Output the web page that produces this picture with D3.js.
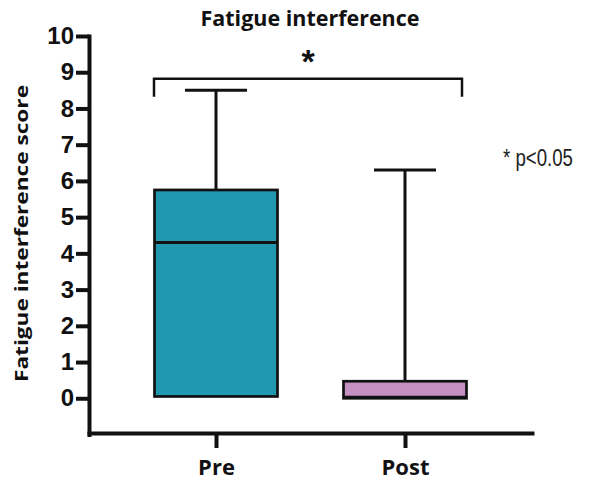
<!DOCTYPE html>
<meta charset="utf-8">
<script src="https://d3js.org/d3.v7.min.js"></script>
<style>
  body { margin: 0; background: #fff; }
  svg { display: block; }
</style>
<body>
<div id="my_dataviz"></div>
</body>
<script>

// data
var groups  = ["Pre", "Post"];
var mins    = [0.05, 0];
var q1s     = [0.05, 0];
var medians = [4.3, 0.03];
var q3s     = [5.75, 0.47];
var maxs    = [8.5, 6.3];
var colors  = ["#2198b0", "#c48fc2"];
var yTicks  = [0, 1, 2, 3, 4, 5, 6, 7, 8, 9, 10];

var W = 604, H = 483;

var svg = d3.select("#my_dataviz")
  .append("svg")
    .attr("width", W)
    .attr("height", H);

// scales
var y = d3.scaleLinear()
  .domain([-1, 10])
  .range([434.5, 36]);

var x = d3.scalePoint()
  .domain(groups)
  .range([89, 532])
  .padding(0.672);

var boxW = 123, capW = 62;

var data = groups.map(function(g, i) {
  return { g: g, min: mins[i], q1: q1s[i], med: medians[i], q3: q3s[i], max: maxs[i], c: colors[i] };
});

// whiskers (drawn first, box sits on top)
svg.selectAll(".whisk")
  .data(data)
  .enter().append("line")
    .attr("x1", function(d) { return x(d.g); })
    .attr("x2", function(d) { return x(d.g); })
    .attr("y1", function(d) { return y(d.max); })
    .attr("y2", function(d) { return y(d.q3); })
    .attr("stroke", "#111").attr("stroke-width", 3);

svg.selectAll(".cap")
  .data(data)
  .enter().append("line")
    .attr("x1", function(d) { return x(d.g) - capW / 2; })
    .attr("x2", function(d) { return x(d.g) + capW / 2; })
    .attr("y1", function(d) { return y(d.max); })
    .attr("y2", function(d) { return y(d.max); })
    .attr("stroke", "#111").attr("stroke-width", 3);

// boxes
svg.selectAll(".box")
  .data(data)
  .enter().append("rect")
    .attr("x", function(d) { return x(d.g) - boxW / 2; })
    .attr("y", function(d) { return y(d.q3); })
    .attr("width", boxW)
    .attr("height", function(d) { return y(d.q1) - y(d.q3); })
    .attr("fill", function(d) { return d.c; })
    .attr("stroke", "#111")
    .attr("stroke-width", 2.7);

// medians
svg.selectAll(".med")
  .data(data)
  .enter().append("line")
    .attr("x1", function(d) { return x(d.g) - boxW / 2; })
    .attr("x2", function(d) { return x(d.g) + boxW / 2; })
    .attr("y1", function(d) { return y(d.med); })
    .attr("y2", function(d) { return y(d.med); })
    .attr("stroke", "#111").attr("stroke-width", 3);

// Y axis
var yAxis = svg.append("g")
  .attr("transform", "translate(89,0)")
  .call(d3.axisLeft(y).tickValues(yTicks).tickSize(13).tickSizeOuter(0).tickPadding(2));

// X axis
var xAxis = svg.append("g")
  .attr("transform", "translate(0,433)")
  .call(d3.axisBottom(x).tickSize(15).tickSizeOuter(0).tickPadding(11));

svg.selectAll(".domain").attr("stroke", "#111").attr("stroke-width", 4).attr("stroke-linecap", "square");
svg.selectAll(".tick line").attr("stroke", "#111").attr("stroke-width", 4);

yAxis.selectAll("text")
  .style("font-family", "'Liberation Sans', Arial, sans-serif")
  .style("font-weight", "bold")
  .style("font-size", "24px")
  .attr("fill", "#111");

xAxis.selectAll("text")
  .style("font-family", "'Open Sans', sans-serif")
  .style("font-weight", "bold")
  .style("font-size", "22px")
  .attr("fill", "#111");

// title
svg.append("text")
  .attr("x", 310)
  .attr("y", 26)
  .attr("text-anchor", "middle")
  .attr("textLength", 219)
  .attr("lengthAdjust", "spacingAndGlyphs")
  .style("font-family", "'Open Sans', sans-serif")
  .style("font-weight", "bold")
  .style("font-size", "21.5px")
  .attr("fill", "#111")
  .text("Fatigue interference");

// Y axis label
svg.append("text")
  .attr("transform", "translate(28,233.5)rotate(-90)")
  .attr("text-anchor", "middle")
  .attr("textLength", 297)
  .attr("lengthAdjust", "spacingAndGlyphs")
  .style("font-family", "'Open Sans', sans-serif")
  .style("font-weight", "bold")
  .style("font-size", "18px")
  .attr("fill", "#111")
  .text("Fatigue interference score");

// significance bracket
var bx1 = x("Pre") - 62, bx2 = x("Post") + 57;
svg.append("path")
  .attr("d", "M" + bx1 + "," + y(8.32) + "V" + y(8.82) + "H" + bx2 + "V" + y(8.32))
  .attr("fill", "none")
  .attr("stroke", "#111")
  .attr("stroke-width", 2.5);

svg.append("text")
  .attr("x", (bx1 + bx2) / 2)
  .attr("y", 73)
  .attr("text-anchor", "middle")
  .style("font-family", "'Liberation Sans', Arial, sans-serif")
  .style("font-weight", "bold")
  .style("font-size", "34px")
  .attr("fill", "#111")
  .text("*");

// p-value note
svg.append("text")
  .attr("x", 503)
  .attr("y", 166)
  .attr("textLength", 70)
  .attr("lengthAdjust", "spacingAndGlyphs")
  .style("font-family", "'Liberation Sans', Arial, sans-serif")
  .style("font-size", "23px")
  .attr("fill", "#222")
  .text("* p<0.05");

</script>
